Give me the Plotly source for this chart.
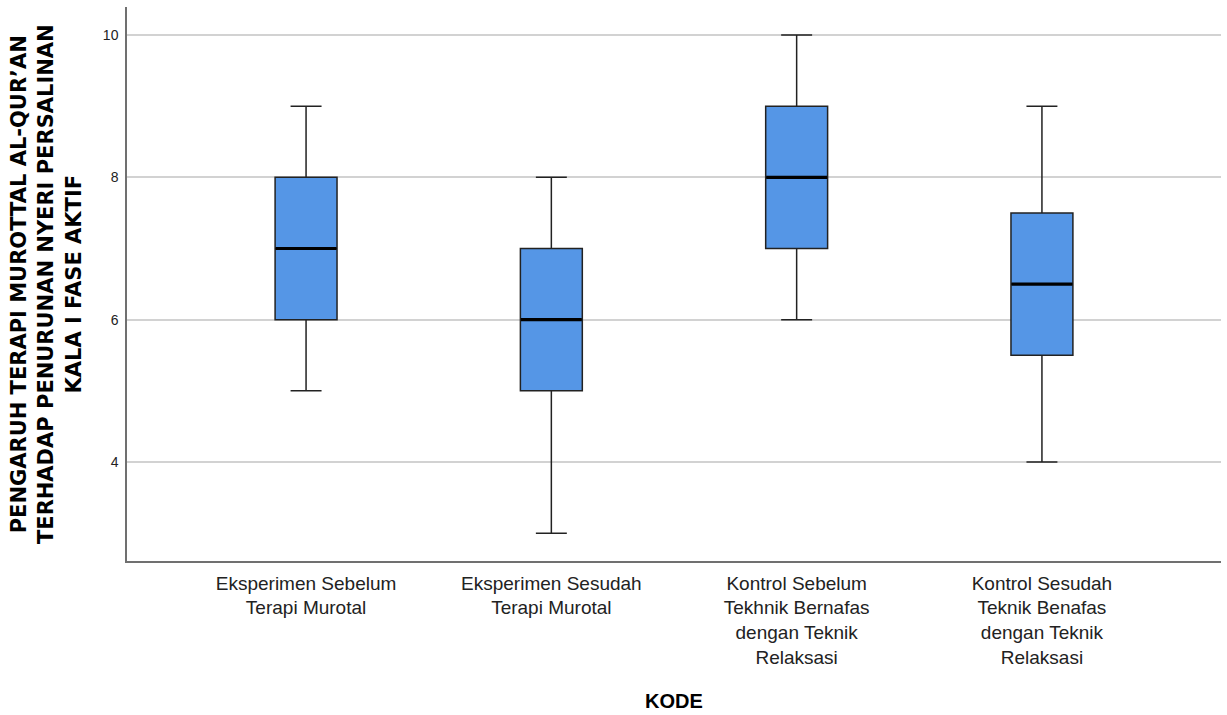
import plotly.graph_objects as go

categories = [
    "Eksperimen Sebelum<br>Terapi Murotal",
    "Eksperimen Sesudah<br>Terapi Murotal",
    "Kontrol Sebelum<br>Tekhnik Bernafas<br>dengan Teknik<br>Relaksasi",
    "Kontrol Sesudah<br>Teknik Benafas<br>dengan Teknik<br>Relaksasi",
]
lower = [5, 3, 6, 4]
q1 = [6, 5, 7, 5.5]
median = [7, 6, 8, 6.5]
q3 = [8, 7, 9, 7.5]
upper = [9, 8, 10, 9]
y_ticks = [4, 6, 8, 10]

y_title = "PENGARUH TERAPI MUROTTAL AL-QUR\u2019AN<br>TERHADAP PENURUNAN NYERI PERSALINAN<br>KALA I FASE AKTIF"
x_title = "KODE"

fig = go.Figure()
fig.add_trace(go.Box(
    x=categories,
    q1=q1, median=median, q3=q3,
    lowerfence=lower, upperfence=upper,
    fillcolor="#5596e6",
    line=dict(color="#222222", width=1.5),
    whiskerwidth=0.5,
    width=0.2525,
    boxpoints=False,
    hoverinfo="skip",
    showlegend=False,
))
fig.add_trace(go.Scatter(
    x=categories, y=median, mode="markers",
    marker=dict(symbol="line-ew", size=43.5, line=dict(color="#000000", width=3.2)),
    hoverinfo="skip", showlegend=False,
))

fig.update_layout(
    width=1227, height=715,
    margin=dict(l=127, r=6, t=7, b=154),
    paper_bgcolor="white", plot_bgcolor="white",
    font=dict(family="Liberation Sans, Arial, sans-serif", color="#222222"),
    xaxis=dict(
        type="category",
        range=[-0.73, 3.73],
        showline=True, linecolor="#707070", linewidth=1.5,
        showgrid=False, ticks="",
        tickfont=dict(size=19, color="#222222"),
        ticklabelstandoff=4,
    ),
    yaxis=dict(
        range=[2.609, 10.393],
        tickvals=y_ticks,
        showline=True, linecolor="#707070", linewidth=1.5,
        showgrid=True, gridcolor="#d2d2d2", gridwidth=2,
        zeroline=False, ticks="",
        tickfont=dict(size=14, color="#222222"),
        ticklabelstandoff=4,
    ),
    annotations=[
        dict(text=y_title, xref="paper", yref="paper", x=-0.074, y=0.5,
             xanchor="center", yanchor="middle", textangle=-90, showarrow=False,
             font=dict(family="DejaVu Sans", size=21, color="#000000", weight="bold")),
        dict(text=x_title, xref="paper", yref="paper", x=0.5, y=-0.2527,
             xanchor="center", yanchor="middle", showarrow=False,
             font=dict(family="Liberation Sans, Arial", size=20, color="#000000", weight="bold")),
    ],
    hovermode=False,
)

fig.write_html(
    "out.html",
    config={"displayModeBar": False},
    post_script="document.body.style.margin='0';document.body.style.padding='0';",
)
